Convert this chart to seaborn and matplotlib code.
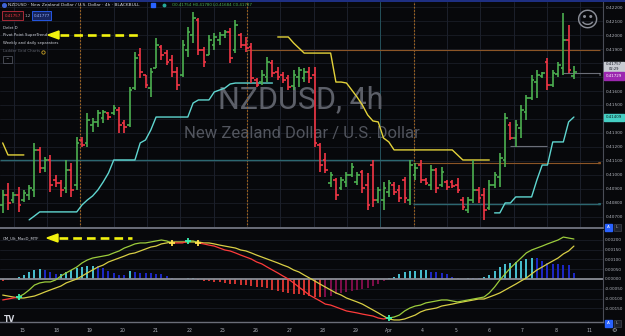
import numpy as np
import pandas as pd
import matplotlib
matplotlib.use("Agg")
import matplotlib.pyplot as plt
import seaborn as sns
from matplotlib.patches import Rectangle, Polygon

# ---------------- data ----------------
opens = [0.40786, 0.40857, 0.40821, 0.40857, 0.40821, 0.40857, 0.40893, 0.41179, 0.41050, 0.41107,
         0.40964, 0.40943, 0.40907, 0.41036, 0.40929, 0.41250, 0.41229, 0.41357, 0.41379, 0.41407,
         0.41443, 0.41443, 0.41464, 0.41371, 0.41357, 0.41621, 0.41857, 0.41714, 0.41621, 0.41764,
         0.41914, 0.41871, 0.41821, 0.41736, 0.41714, 0.41893, 0.42000, 0.42107, 0.41893, 0.41857,
         0.41929, 0.41964, 0.42000, 0.42021, 0.41893, 0.42000, 0.41929, 0.41914, 0.41679, 0.41664,
         0.41700, 0.41800, 0.41736, 0.41714, 0.41693, 0.41636, 0.41700, 0.41693, 0.41736, 0.41714,
         0.41214, 0.41107, 0.40943, 0.40964, 0.40907, 0.40950, 0.41000, 0.40950, 0.41021, 0.40929,
         0.41071, 0.40821, 0.40821, 0.40879, 0.40929, 0.40893, 0.40964, 0.40821, 0.41000, 0.41071,
         0.40964, 0.40929, 0.41036, 0.40929, 0.40950, 0.40950, 0.40929, 0.40821, 0.40750, 0.40821,
         0.40893, 0.40857, 0.40764, 0.40929, 0.40986, 0.41107, 0.41357, 0.41264, 0.41336, 0.41450,
         0.41550, 0.41664, 0.41707, 0.41807, 0.41643, 0.41721, 0.41764, 0.41964, 0.41707]
highs = [0.40893, 0.40943, 0.40879, 0.40914, 0.40893, 0.40929, 0.41229, 0.41200, 0.41129, 0.41143,
         0.41000, 0.40964, 0.41107, 0.41086, 0.41271, 0.41271, 0.41443, 0.41407, 0.41464, 0.41464,
         0.41450, 0.41500, 0.41486, 0.41393, 0.41629, 0.41879, 0.41907, 0.41714, 0.41764, 0.41979,
         0.41929, 0.41893, 0.41857, 0.41771, 0.41964, 0.42057, 0.42164, 0.42121, 0.41914, 0.42000,
         0.42014, 0.42021, 0.42036, 0.42050, 0.42107, 0.42014, 0.41986, 0.41943, 0.41693, 0.41750,
         0.41843, 0.41821, 0.41771, 0.41736, 0.41714, 0.41750, 0.41771, 0.41764, 0.41771, 0.41771,
         0.41229, 0.41157, 0.41021, 0.40979, 0.40986, 0.41021, 0.41086, 0.41021, 0.41036, 0.41014,
         0.41107, 0.40914, 0.40950, 0.40964, 0.40950, 0.40929, 0.40986, 0.41107, 0.41086, 0.41107,
         0.40979, 0.41071, 0.41050, 0.41057, 0.40964, 0.40964, 0.40979, 0.40843, 0.40843, 0.41107,
         0.40914, 0.40907, 0.40964, 0.41021, 0.41157, 0.41443, 0.41379, 0.41393, 0.41500, 0.41571,
         0.41714, 0.41750, 0.41736, 0.41836, 0.41750, 0.41807, 0.42157, 0.42071, 0.41779]
lows = [0.40729, 0.40750, 0.40800, 0.40736, 0.40807, 0.40821, 0.40843, 0.41014, 0.41021, 0.40879,
        0.40914, 0.40843, 0.40871, 0.40843, 0.40893, 0.41200, 0.41200, 0.41307, 0.41343, 0.41371,
        0.41393, 0.41429, 0.41300, 0.41300, 0.41343, 0.41607, 0.41693, 0.41621, 0.41557, 0.41764,
        0.41821, 0.41786, 0.41700, 0.41607, 0.41700, 0.41843, 0.41943, 0.41857, 0.41771, 0.41857,
        0.41893, 0.41929, 0.41979, 0.41800, 0.41871, 0.41907, 0.41879, 0.41657, 0.41629, 0.41643,
        0.41664, 0.41700, 0.41679, 0.41657, 0.41607, 0.41607, 0.41629, 0.41664, 0.41657, 0.41200,
        0.41021, 0.41014, 0.40914, 0.40821, 0.40893, 0.40914, 0.40986, 0.40929, 0.40871, 0.40750,
        0.40771, 0.40800, 0.40750, 0.40843, 0.40857, 0.40807, 0.40800, 0.40786, 0.40964, 0.40943,
        0.40929, 0.40893, 0.40871, 0.40914, 0.40893, 0.40907, 0.40871, 0.40750, 0.40729, 0.40800,
        0.40800, 0.40679, 0.40750, 0.40907, 0.40914, 0.41057, 0.41250, 0.41200, 0.41264, 0.41393,
        0.41536, 0.41550, 0.41693, 0.41607, 0.41629, 0.41700, 0.41714, 0.41729, 0.41686]
closes = [0.40857, 0.40800, 0.40857, 0.40786, 0.40871, 0.40907, 0.41179, 0.41050, 0.41107, 0.40929,
          0.40943, 0.40893, 0.41036, 0.40893, 0.41229, 0.41214, 0.41393, 0.41379, 0.41443, 0.41450,
          0.41414, 0.41479, 0.41357, 0.41343, 0.41607, 0.41836, 0.41736, 0.41643, 0.41736, 0.41929,
          0.41857, 0.41807, 0.41736, 0.41643, 0.41929, 0.42021, 0.42121, 0.41893, 0.41807, 0.41964,
          0.41986, 0.42000, 0.42021, 0.41836, 0.42071, 0.41929, 0.41907, 0.41693, 0.41643, 0.41714,
          0.41807, 0.41729, 0.41700, 0.41679, 0.41629, 0.41714, 0.41750, 0.41736, 0.41693, 0.41229,
          0.41071, 0.41036, 0.41000, 0.40857, 0.40964, 0.41000, 0.41057, 0.41000, 0.40907, 0.40786,
          0.40821, 0.40893, 0.40907, 0.40943, 0.40879, 0.40836, 0.40836, 0.41071, 0.41050, 0.40964,
          0.40943, 0.41036, 0.40907, 0.41021, 0.40914, 0.40921, 0.40893, 0.40771, 0.40821, 0.40893,
          0.40836, 0.40750, 0.40929, 0.41000, 0.41121, 0.41407, 0.41264, 0.41357, 0.41464, 0.41550,
          0.41679, 0.41714, 0.41729, 0.41643, 0.41729, 0.41786, 0.41964, 0.41750, 0.41736]

# Pivot Point SuperTrend value per bar and its trend runs (start, end bar)
supertrend = [0.41229, 0.41143, 0.41143, 0.41143, 0.41143,
              0.40679, 0.40707, 0.40736, 0.40736, 0.40736, 0.40736, 0.40736, 0.40736, 0.40736, 0.40736,
              0.40786, 0.40821, 0.40850, 0.40893, 0.40950, 0.41014,
              0.41107, 0.41107, 0.41107, 0.41107, 0.41107, 0.41229, 0.41250, 0.41321,
              0.41414, 0.41414, 0.41414, 0.41414, 0.41414, 0.41414, 0.41414,
              0.41514, 0.41536, 0.41536, 0.41536, 0.41593, 0.41607, 0.41621, 0.41650,
              0.41657, 0.41657, 0.41657, 0.41657, 0.41657, 0.41657, 0.41657, 0.41657,
              0.41986, 0.41986, 0.41986, 0.41943, 0.41907,
              0.41871, 0.41871, 0.41871, 0.41871, 0.41871, 0.41871,
              0.41664, 0.41664, 0.41657, 0.41607, 0.41557, 0.41500, 0.41429, 0.41386, 0.41379,
              0.41264, 0.41236,
              0.41179, 0.41179, 0.41179, 0.41179, 0.41179, 0.41179, 0.41179, 0.41179, 0.41179,
              0.41179, 0.41179, 0.41179, 0.41143,
              0.41107, 0.41107, 0.41107, 0.41107, 0.41107, 0.41107,
              0.40729, 0.40729, 0.40800, 0.40800, 0.40843, 0.40843, 0.40843, 0.40843,
              0.40964, 0.41071, 0.41071, 0.41236, 0.41236, 0.41236, 0.41379, 0.41414]
trend_runs = [("down", 0, 4), ("up", 5, 51), ("down", 52, 92), ("up", 93, 108)]

# horizontal indicator levels: price, first bar, last bar, colour key
level_prices = [0.41107, 0.41896, 0.41086, 0.40793, 0.41209, 0.41729]
level_starts = [-0.5, 46.2, 77.6, 77.6, 95.9, 105.9]
level_ends = [77.6, 112.9, 112.9, 112.9, 102.9, 112.9]
level_kinds = ["teal", "orange", "orange", "teal", "grey", "grey"]

daily_seps = [2.1, 8.4, 14.7, 21.0, 27.3, 33.6, 39.9, 46.2, 52.5, 58.8, 65.1, 71.4, 77.7,
              84.0, 90.3, 96.6, 102.9, 109.2]
weekly_seps = [14.7, 46.2, 77.7]

# CM_Ult_MacD_MTF
macd = [-0.00107, -0.00102, -0.00097, -0.00092, -0.00077, -0.00056, -0.00031, -0.00020, -0.00015, -0.00015,
        -0.00005, 0.00015, 0.00031, 0.00046, 0.00061, 0.00082, 0.00097, 0.00107, 0.00112, 0.00117,
        0.00122, 0.00133, 0.00143, 0.00158, 0.00168, 0.00179, 0.00184, 0.00184, 0.00189, 0.00194,
        0.00199, 0.00194, 0.00184, 0.00184, 0.00184, 0.00194, 0.00194, 0.00184, 0.00179, 0.00173,
        0.00168, 0.00158, 0.00148, 0.00143, 0.00133, 0.00122, 0.00112, 0.00102, 0.00087, 0.00077,
        0.00061, 0.00046, 0.00031, 0.00015, 0.00000, -0.00020, -0.00041, -0.00061, -0.00082, -0.00097,
        -0.00112, -0.00128, -0.00133, -0.00143, -0.00153, -0.00163, -0.00168, -0.00173, -0.00179, -0.00184,
        -0.00189, -0.00199, -0.00204, -0.00199, -0.00194, -0.00184, -0.00163, -0.00148, -0.00138, -0.00133,
        -0.00122, -0.00117, -0.00112, -0.00107, -0.00107, -0.00112, -0.00117, -0.00112, -0.00107, -0.00102,
        -0.00097, -0.00092, -0.00071, -0.00041, -0.00005, 0.00026, 0.00056, 0.00082, 0.00107, 0.00133,
        0.00148, 0.00158, 0.00168, 0.00179, 0.00189, 0.00199, 0.00214, 0.00209, 0.00204]
signal = [-0.00082, -0.00087, -0.00092, -0.00097, -0.00097, -0.00092, -0.00087, -0.00077, -0.00066, -0.00056,
          -0.00046, -0.00036, -0.00020, -0.00010, 0.00000, 0.00015, 0.00031, 0.00046, 0.00061, 0.00071,
          0.00087, 0.00097, 0.00107, 0.00117, 0.00128, 0.00133, 0.00143, 0.00153, 0.00163, 0.00168,
          0.00179, 0.00184, 0.00189, 0.00189, 0.00189, 0.00189, 0.00189, 0.00189, 0.00184, 0.00184,
          0.00179, 0.00173, 0.00168, 0.00163, 0.00158, 0.00148, 0.00143, 0.00133, 0.00122, 0.00112,
          0.00102, 0.00092, 0.00082, 0.00071, 0.00061, 0.00046, 0.00036, 0.00020, 0.00005, -0.00010,
          -0.00026, -0.00041, -0.00056, -0.00071, -0.00082, -0.00097, -0.00107, -0.00117, -0.00128, -0.00143,
          -0.00158, -0.00173, -0.00189, -0.00204, -0.00209, -0.00209, -0.00204, -0.00194, -0.00184, -0.00168,
          -0.00158, -0.00153, -0.00148, -0.00138, -0.00133, -0.00128, -0.00122, -0.00117, -0.00112, -0.00107,
          -0.00102, -0.00102, -0.00092, -0.00082, -0.00071, -0.00056, -0.00041, -0.00026, -0.00010, 0.00005,
          0.00026, 0.00046, 0.00061, 0.00077, 0.00092, 0.00107, 0.00128, 0.00143, 0.00168]
hist = [-0.00008, -0.00005, 0.00000, 0.00010, 0.00020, 0.00036, 0.00046, 0.00051, 0.00046, 0.00036,
        0.00023, 0.00026, 0.00036, 0.00046, 0.00054, 0.00059, 0.00064, 0.00068, 0.00066, 0.00055,
        0.00042, 0.00032, 0.00020, 0.00018, 0.00041, 0.00037, 0.00032, 0.00031, 0.00029, 0.00027,
        0.00023, 0.00015, 0.00003, 0.00002, 0.00001, 0.00004, 0.00005, -0.00005, -0.00008, -0.00010,
        -0.00013, -0.00015, -0.00020, -0.00023, -0.00026, -0.00031, -0.00033, -0.00036, -0.00041, -0.00043,
        -0.00048, -0.00054, -0.00059, -0.00064, -0.00069, -0.00074, -0.00079, -0.00084, -0.00089, -0.00092,
        -0.00094, -0.00092, -0.00087, -0.00079, -0.00071, -0.00066, -0.00061, -0.00056, -0.00051, -0.00046,
        -0.00036, -0.00026, -0.00010, 0.00003, 0.00010, 0.00026, 0.00036, 0.00041, 0.00043, 0.00045,
        0.00046, 0.00037, 0.00034, 0.00029, 0.00024, 0.00012, 0.00003, 0.00001, 0.00007, 0.00006,
        0.00003, 0.00012, 0.00020, 0.00041, 0.00061, 0.00074, 0.00080, 0.00085, 0.00094, 0.00102,
        0.00106, 0.00105, 0.00094, 0.00080, 0.00077, 0.00074, 0.00071, 0.00069, 0.00032]

day_ticks = [3.8, 10.1, 16.4, 22.7, 29.0, 35.3, 41.6, 47.9, 54.2, 60.5, 66.8, 73.1, 79.4,
             85.7, 92.0, 98.3, 104.6, 110.9]
day_labels = ["15", "18", "19", "20", "21", "22", "25", "26", "27", "28", "29", "Apr",
              "4", "5", "6", "7", "8", "11"]
price_ticks = [0.407, 0.408, 0.409, 0.410, 0.411, 0.412, 0.413, 0.414, 0.415, 0.416,
               0.417, 0.418, 0.419, 0.420, 0.421, 0.422]
price_hidden = [0.414, 0.417, 0.418]
macd_ticks = [0.002, 0.0015, 0.001, 0.0005, 0.0, -0.0005, -0.001, -0.0015]

# ---------------- styling ----------------
BG = "#07080b"
GREEN, RED = "#4caf50", "#f23645"
YEL, CYAN = "#e3d23a", "#5fd6d0"
GRID = "#1a1d26"
TXT = "#b2b5be"
LEVEL_COL = {"teal": "#2c6770", "orange": "#8c5526", "grey": "#6b6e78"}

sns.set_theme(style="dark", rc={"figure.facecolor": BG, "axes.facecolor": "none",
                                "savefig.facecolor": BG})
plt.rcParams["font.family"] = ["DejaVu Sans"]

W, H = 625, 336
fig = plt.figure(figsize=(6.25, 3.36), dpi=100)
ax = fig.add_axes([0, 1 - 228 / H, 603 / W, (228 - 2) / H])
axl = fig.add_axes([0, 1 - 322 / H, 603 / W, (322 - 230) / H], sharex=ax)

n = len(closes)
df = pd.DataFrame({"i": np.arange(n), "o": opens, "h": highs, "l": lows, "c": closes})
bar_col = np.where(df["c"] >= df["o"], GREEN, RED)

# grid & separators
for p in price_ticks:
    ax.axhline(p, color=GRID, lw=0.6, zorder=0)
for d in daily_seps:
    ax.axvline(d, color="#1c202b", lw=0.7, zorder=0)
ax.axvline(daily_seps[11], color="#24505a", lw=0.7, zorder=0)
for d in weekly_seps:
    ax.axvline(d, color="#a5661f", lw=0.8, ls=(0, (1.5, 1.5)), zorder=1)

# watermark
ax.text(0.499, 0.566, "NZDUSD, 4h", transform=ax.transAxes, ha="center", va="center",
        fontsize=22, color="#5c5f68", family="Roboto", zorder=0.5)
ax.text(0.5, 0.418, "New Zealand Dollar / U.S. Dollar", transform=ax.transAxes,
        ha="center", va="center", fontsize=12, color="#52555e", family="Roboto", zorder=0.5)

# level lines
for p, s, e, k in zip(level_prices, level_starts, level_ends, level_kinds):
    ax.hlines(p, s, e, color=LEVEL_COL[k], lw=1.0 if k == "teal" else 0.8, zorder=1)

# supertrend
for trend, s, e in trend_runs:
    seg = pd.DataFrame({"i": np.arange(s, e + 1), "v": supertrend[s:e + 1]})
    sns.lineplot(data=seg, x="i", y="v", ax=ax, color=YEL if trend == "down" else CYAN,
                 lw=1.0, zorder=3, legend=False, estimator=None, errorbar=None)

# OHLC bars
ax.vlines(df["i"], df["l"], df["h"], colors=bar_col, lw=1.2, zorder=4)
ax.hlines(df["o"], df["i"] - 0.5, df["i"], colors=bar_col, lw=1.2, zorder=4)
ax.hlines(df["c"], df["i"], df["i"] + 0.5, colors=bar_col, lw=1.2, zorder=4)

ax.set_xlim(-0.51, 113.5)
ax.set_ylim(0.40621, 0.42236)
ax.yaxis.tick_right()
ax.set_yticks(price_ticks)
ax.set_yticklabels(["" if p in price_hidden else f"{p:.5f}" for p in price_ticks])
ax.tick_params(axis="y", length=0, pad=2.0, labelsize=3.1, labelcolor=TXT)
ax.tick_params(axis="x", length=0, labelbottom=False)
ax.set_xlabel(""); ax.set_ylabel("")
for side in ["top", "left"]:
    ax.spines[side].set_visible(False)
ax.spines["bottom"].set_color("#6a6d78"); ax.spines["bottom"].set_linewidth(1.4)
ax.spines["right"].set_color("#4a4d57"); ax.spines["right"].set_linewidth(0.8)

# ---------------- lower panel ----------------
for t in macd_ticks:
    axl.axhline(t, color=GRID, lw=0.6, zorder=0)
hs = pd.Series(hist)
prev = hs.shift(1).fillna(0)
hcol = np.where(hs > 0, np.where(hs >= prev, "#4dd0e1", "#1f2bd6"),
                np.where(hs < prev, "#e53935", "#880e4f"))
axl.vlines(np.arange(n), 0, hs, colors=hcol, lw=1.3, zorder=2)
axl.axhline(0, color="#8a8d96", lw=1.3, zorder=2.5)

md = pd.DataFrame({"i": np.arange(n), "macd": macd, "sig": signal})
sns.lineplot(data=md, x="i", y="sig", ax=axl, color="#d9cf45", lw=0.9, zorder=3,
             legend=False, estimator=None, errorbar=None)
bull = (md["macd"] >= md["sig"]).to_numpy()
start = 0
for k in range(1, n + 1):
    if k == n or bull[k] != bull[start]:
        seg = md.iloc[start:min(k + 1, n)]
        sns.lineplot(data=seg, x="i", y="macd", ax=axl, color="#9ccc3c" if bull[start] else "#ff3b3b",
                     lw=0.9, zorder=4, legend=False, estimator=None, errorbar=None)
        start = k
cross = np.where(bull[1:] != bull[:-1])[0] + 1
for k in cross:
    axl.plot(k, macd[k], marker="+", ms=4.5, mew=1.3, color="#3cf0b0" if bull[k] else "#ffe14d",
             zorder=5)

axl.set_ylim(-0.002194, 0.0025)
axl.yaxis.tick_right()
axl.set_yticks(macd_ticks)
axl.set_yticklabels([f"{t:.5f}" for t in macd_ticks])
axl.tick_params(axis="y", length=0, pad=1.6, labelsize=2.95, labelcolor=TXT)
axl.set_xticks(day_ticks)
axl.set_xticklabels(day_labels)
axl.tick_params(axis="x", length=0, pad=4.5, labelsize=3.3, labelcolor=TXT)
axl.set_xlabel(""); axl.set_ylabel("")
axl.spines["left"].set_visible(False)
axl.spines["top"].set_visible(False)
axl.spines["bottom"].set_color("#6a6d78"); axl.spines["bottom"].set_linewidth(1.0)
axl.spines["right"].set_color("#4a4d57"); axl.spines["right"].set_linewidth(0.8)

# ---------------- overlay (legend texts, price boxes, buttons) ----------------
ov = fig.add_axes([0, 0, 1, 1], zorder=10)
ov.set_xlim(0, W); ov.set_ylim(H, 0); ov.axis("off")
ov.plot([0, W], [0.6, 0.6], color="#23379a", lw=1.2)

ov.plot(4, 5, "o", ms=2.6, color="#3f64d8")
ov.text(7.5, 5, "NZDUSD \u00b7 New Zealand Dollar / U.S. Dollar \u00b7 4h \u00b7 BLACKBULL",
        fontsize=3.2, color="#d1d4dc", va="center")
ov.add_patch(Rectangle((151, 2.5), 4, 4, color="#2962ff"))
ov.plot(164, 4.5, "o", ms=1.8, color="#26a69a")
ov.text(172, 4.8, "O0.41754 H0.41780 L0.41684 C0.41737", fontsize=2.9, color="#4caf50",
        va="center")
ov.add_patch(Rectangle((2, 11), 21, 9, fc="#1a0d10", ec="#c2303f", lw=0.6))
ov.text(12.5, 15.6, "0.41757", fontsize=2.9, color="#f23645", ha="center", va="center")
ov.text(27.5, 15.6, "1.2", fontsize=2.9, color=TXT, ha="center", va="center")
ov.add_patch(Rectangle((32, 11), 19, 9, fc="#16245e", ec="#2962ff", lw=0.6))
ov.text(41.5, 15.6, "0.41777", fontsize=2.9, color="#9db6ff", ha="center", va="center")
ov.text(3, 28, "Delet D", fontsize=2.8, color="#d1d4dc", va="center")
ov.text(3, 35, "Pivot Point SuperTrend", fontsize=2.8, color="#d1d4dc", va="center")
ov.text(3, 43, "Weekly and daily separators", fontsize=2.8, color="#d1d4dc", va="center")
ov.text(3, 51.5, "Ladder Grid Charts", fontsize=2.8, color="#5d606b", va="center")
ov.plot(43, 51.5, "o", ms=2.4, mfc="none", mec="#c9a227", mew=0.6)
ov.add_patch(Rectangle((3, 55.5), 9, 7.5, fc="none", ec="#5d606b", lw=0.5))
ov.text(7.5, 59.6, "^", fontsize=3, color=TXT, ha="center", va="center")
ov.text(3, 238, "CM_Ult_MacD_MTF", fontsize=2.8, color="#d1d4dc", va="center")


def dashed_arrow(x_tip, x_end, y):
    ov.plot([x_tip + 12, x_end], [y, y], color="#f2f20f", lw=1.9, ls=(0, (3.3, 1.9)),
            solid_capstyle="butt")
    ov.add_patch(Polygon([[x_tip, y], [x_tip + 11, y - 4], [x_tip + 11, y + 4]],
                         closed=True, color="#f2f20f"))


dashed_arrow(48, 138, 35)
dashed_arrow(47, 132, 238)

ov.text(587, 21, "\u263a", fontsize=16, color="#8a8d96", ha="center", va="center")

# right-hand price boxes
ov.add_patch(Rectangle((604, 61.5), 20, 10, color="#c8cbd2"))
ov.text(614, 64.3, "0.41757", fontsize=2.8, color="#131722", ha="center", va="center")
ov.text(614, 68.8, "02:29", fontsize=2.6, color="#131722", ha="center", va="center")
ov.add_patch(Rectangle((604, 72), 20, 7.5, color="#9c27b0"))
ov.text(614, 75.8, "0.41729", fontsize=2.9, color="white", ha="center", va="center")
ov.add_patch(Rectangle((604, 113.5), 20, 7.5, color="#45cfc4"))
ov.text(614, 117.3, "0.41409", fontsize=2.9, color="#0b1a1a", ha="center", va="center")
ov.text(599.5, 75.5, "8", fontsize=2.6, color="#9598a1", ha="center", va="center")
ov.text(599.5, 163, "\u25a0", fontsize=2.4, color="#8c5526", ha="center", va="center")
ov.text(599.5, 204, "\u25a0", fontsize=2.4, color="#2c6770", ha="center", va="center")

for yb in (223.5, 319.5):
    ov.add_patch(Rectangle((604.5, yb), 7, 7, color="#2962ff"))
    ov.text(608, yb + 3.6, "A", fontsize=3, color="white", ha="center", va="center")
    ov.add_patch(Rectangle((613.5, yb), 7, 7, fc="#1e222d", ec="#4a4d57", lw=0.4))
    ov.text(617, yb + 3.6, "L", fontsize=3, color=TXT, ha="center", va="center")

ov.text(9, 320, "TV", fontsize=5.5, color="#d1d4dc", ha="center", va="center",
        fontweight="bold")
ov.text(614, 331, "\u2699", fontsize=4.5, color=TXT, ha="center", va="center")

fig.savefig("out.png", dpi=100, facecolor=BG)
